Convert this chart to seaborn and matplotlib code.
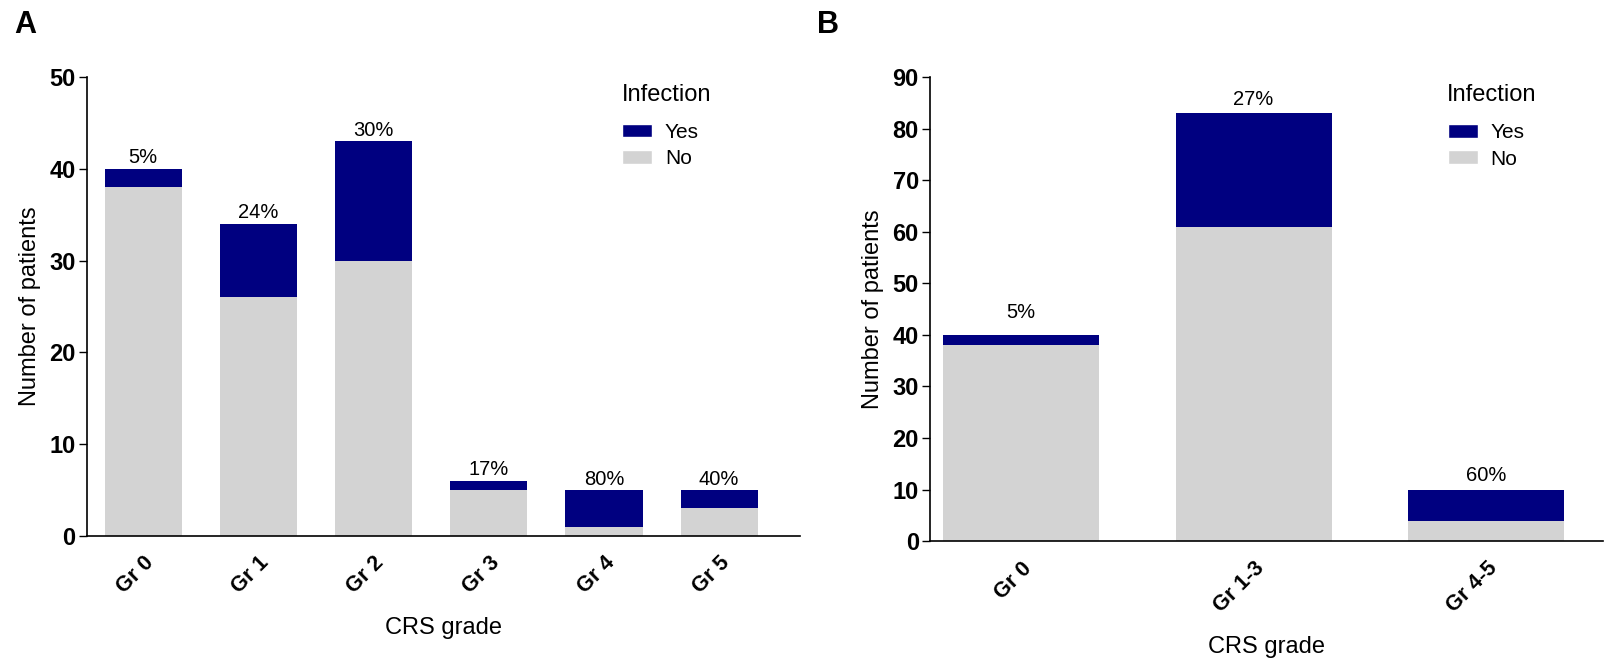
import matplotlib
matplotlib.use("Agg")
import matplotlib.pyplot as plt
from matplotlib.patches import Patch
import seaborn as sns
import pandas as pd

sns.set_style("ticks")
plt.rcParams["font.family"] = ["Liberation Sans", "DejaVu Sans"]
plt.rcParams.update({
    "text.color": "black",
    "axes.labelcolor": "black",
    "xtick.color": "black",
    "ytick.color": "black",
    "axes.edgecolor": "black",
})

# Panel A: individual CRS grades
grades_a = ["Gr 0", "Gr 1", "Gr 2", "Gr 3", "Gr 4", "Gr 5"]
no_a = [38, 26, 30, 5, 1, 3]
yes_a = [2, 8, 13, 1, 4, 2]

# Panel B: grouped CRS grades
grades_b = ["Gr 0", "Gr 1-3", "Gr 4-5"]
no_b = [38, 61, 4]
yes_b = [2, 22, 6]

YES_COLOR = "#000080"
NO_COLOR = "#D3D3D3"

fig = plt.figure(figsize=(16.06, 6.69), dpi=100)
ax_a = fig.add_axes([0.054, 0.199, 0.444, 0.686])
ax_b = fig.add_axes([0.579, 0.191, 0.419, 0.694])


def draw_panel(ax, grades, no, yes, ymax, ystep, xlim, label_pad, leg_x):
    total = [n + y for n, y in zip(no, yes)]
    df = pd.DataFrame({"grade": grades, "no": no, "yes": yes, "total": total})
    # Full bar height in the "Yes" colour, then the "No" part painted over it
    sns.barplot(data=df, x="grade", y="total", order=grades, color=YES_COLOR,
                saturation=1, width=0.67, ax=ax, linewidth=0)
    sns.barplot(data=df, x="grade", y="no", order=grades, color=NO_COLOR,
                saturation=1, width=0.67, ax=ax, linewidth=0)
    for i, (t, y) in enumerate(zip(total, yes)):
        pct = int(y / t * 100 + 0.5)
        ax.annotate(f"{pct}%", (i, t), xytext=(0, label_pad[i]),
                    textcoords="offset points", ha="center", va="bottom",
                    fontsize=14.5)
    ax.set_ylim(0, ymax)
    ax.set_xlim(*xlim)
    ax.set_yticks(range(0, ymax + 1, ystep))
    ax.set_ylabel("Number of patients", fontsize=17, labelpad=6)
    ax.set_xlabel("CRS grade", fontsize=17, labelpad=14)
    for lab in ax.get_yticklabels():
        lab.set_fontweight("bold")
        lab.set_fontsize(17)
    ax.set_xticks(range(len(grades)))
    ax.set_xticklabels(grades, rotation=45, ha="right", rotation_mode="anchor",
                       fontsize=15.5, fontweight="bold")
    ax.tick_params(axis="x", length=0, pad=12)
    ax.tick_params(axis="y", length=6, width=1.0, direction="out", pad=2)
    sns.despine(ax=ax)
    for s in ("left", "bottom"):
        ax.spines[s].set_linewidth(1.2)
    ax.text(leg_x - 0.001, 0.985, "Infection", transform=ax.transAxes,
            fontsize=17, ha="left", va="top")
    handles = [Patch(facecolor=YES_COLOR, label="Yes"),
               Patch(facecolor=NO_COLOR, label="No")]
    ax.legend(handles=handles, loc="upper left", bbox_to_anchor=(leg_x, 0.90),
              frameon=False, fontsize=15, borderpad=0, borderaxespad=0,
              handlelength=1.45, handleheight=0.65, handletextpad=0.6,
              labelspacing=0.35)


draw_panel(ax_a, grades_a, no_a, yes_a, 50, 10, (-0.49, 5.70),
           [1, 1, 1, 1, 1, 1], 0.751)
draw_panel(ax_b, grades_b, no_b, yes_b, 90, 10, (-0.39, 2.5),
           [9, 3, 3], 0.770)

fig.text(0.009, 0.985, "A", fontsize=22, fontweight="bold", va="top")
fig.text(0.509, 0.985, "B", fontsize=22, fontweight="bold", va="top")

fig.savefig("out.png", dpi=100)
